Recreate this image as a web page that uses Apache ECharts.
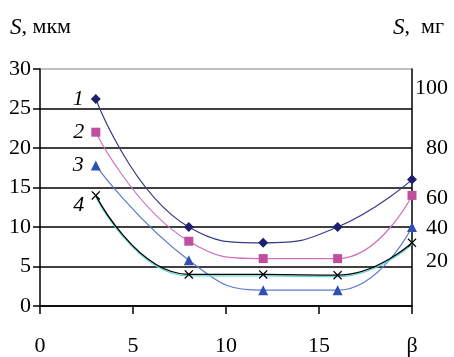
<!DOCTYPE html>
<html>
<head>
<meta charset="utf-8">
<script src="https://cdn.jsdelivr.net/npm/echarts@6/dist/echarts.min.js"></script>
<style>
  html, body { margin: 0; padding: 0; background: #fff; }
  #chart { width: 454px; height: 357px; }
</style>
</head>
<body>
<div id="chart"></div>
<script>
  // x positions of the measured points
  let xValues = [3, 8, 12, 16, 20]
  let xTickLabels = ['0', '5', '10', '15', 'β']

  let series1 = [26.2, 10, 8, 10, 16]
  let series2 = [22, 8.2, 6, 6, 14]
  let series3 = [17.8, 5.8, 2, 2, 10]
  let series4 = [14, 4, 4, 3.9, 8]
  let seriesNames = ['1', '2', '3', '4']

  // right axis (мг) labels, placed on the left (мкм) scale
  let rightTickLabels = ['20', '40', '60', '80', '100']
  let rightTickPos = [5.7, 9.8, 13.7, 20, 27.6]

  let font = "'Liberation Serif', 'Times New Roman', serif"
  let crossPath = 'path://M0,1L1,0L5,4L9,0L10,1L6,5L10,9L9,10L5,6L1,10L0,9L4,5Z'

  function makeData(values, labelOffset) {
    return xValues.map(function (x, i) {
      if (i === 0) {
        return {
          value: [x, values[i]],
          label: {
            show: true, position: 'left', distance: 7, offset: labelOffset,
            fontFamily: font, fontStyle: 'italic', fontSize: 22, color: '#000',
            formatter: '{a}'
          }
        }
      }
      return [x, values[i]]
    })
  }

  let myChart = echarts.init(document.getElementById('chart'))
  let titleStyle = {
    fontFamily: font, fontSize: 22, fontWeight: 'normal', color: '#000',
    rich: { i: { fontFamily: font, fontSize: 23, fontStyle: 'italic', color: '#000' } }
  }
  let option = {
    animation: false,
    textStyle: { fontFamily: font },
    title: [{
      text: '{i|S}, мкм',
      left: 5, top: 11,
      textStyle: titleStyle
    }, {
      text: '{i|S},  мг',
      right: 5, top: 11,
      textStyle: titleStyle
    }],
    grid: { left: 40, right: 42, top: 69, bottom: 50 },
    xAxis: {
      type: 'value', min: 0, max: 20, interval: 5,
      axisLine: { lineStyle: { color: '#000', width: 1.5 } },
      axisTick: { show: true, inside: false, length: 8, lineStyle: { color: '#000', width: 1.5 } },
      axisLabel: {
        margin: 29, fontSize: 22, color: '#000', fontFamily: font,
        formatter: function (v) { return xTickLabels[Math.round(v / 5)] }
      },
      splitLine: { show: false }
    },
    yAxis: [{
      type: 'value', min: 0, max: 30, interval: 5,
      axisLine: { show: true, lineStyle: { color: '#000', width: 1.5 } },
      axisTick: { show: true, inside: false, length: 7, lineStyle: { color: '#000', width: 1.5 } },
      axisLabel: { margin: 9, fontSize: 22, color: '#000', fontFamily: font },
      splitLine: {
        show: true,
        lineStyle: { color: ['#000', '#000', '#000', '#000', '#000', '#000', '#aaa'], width: 1.5 }
      }
    }, {
      type: 'value', min: 0, max: 30, position: 'right',
      axisLine: { show: true, lineStyle: { color: '#000', width: 1.5 } },
      axisTick: { show: false },
      splitLine: { show: false },
      axisLabel: {
        customValues: rightTickPos,
        margin: 36, align: 'right', fontSize: 22, color: '#000', fontFamily: font,
        formatter: function (v) {
          let i = rightTickPos.indexOf(v)
          return i >= 0 ? rightTickLabels[i] : ''
        }
      }
    }],
    series: [
      {
        name: seriesNames[0], type: 'line', smooth: 0.5,
        data: makeData(series1, [0, 0]),
        symbol: 'diamond', symbolSize: 10,
        lineStyle: { color: '#3a3a8a', width: 1.2 },
        itemStyle: { color: '#1f1f6e' }
      },
      {
        name: seriesNames[1], type: 'line', smooth: 0.5,
        data: makeData(series2, [0, 0]),
        symbol: 'rect', symbolSize: 9,
        lineStyle: { color: '#d070c0', width: 1.2 },
        itemStyle: { color: '#c04fa0' }
      },
      {
        name: seriesNames[2], type: 'line', smooth: 0.5,
        data: makeData(series3, [0, 0]),
        symbol: 'triangle', symbolSize: 10,
        lineStyle: { color: '#5a7ad0', width: 1.2 },
        itemStyle: { color: '#2f50b0' }
      },
      {
        name: seriesNames[3], type: 'line', smooth: 0.5,
        data: makeData(series4, [0, 10]),
        symbol: crossPath, symbolSize: 9,
        lineStyle: { color: '#000', width: 1.3, shadowColor: '#5fd8d8', shadowOffsetY: 1.5 },
        itemStyle: { color: '#000' }
      }
    ]
  }
  myChart.setOption(option)
</script>
</body>
</html>
